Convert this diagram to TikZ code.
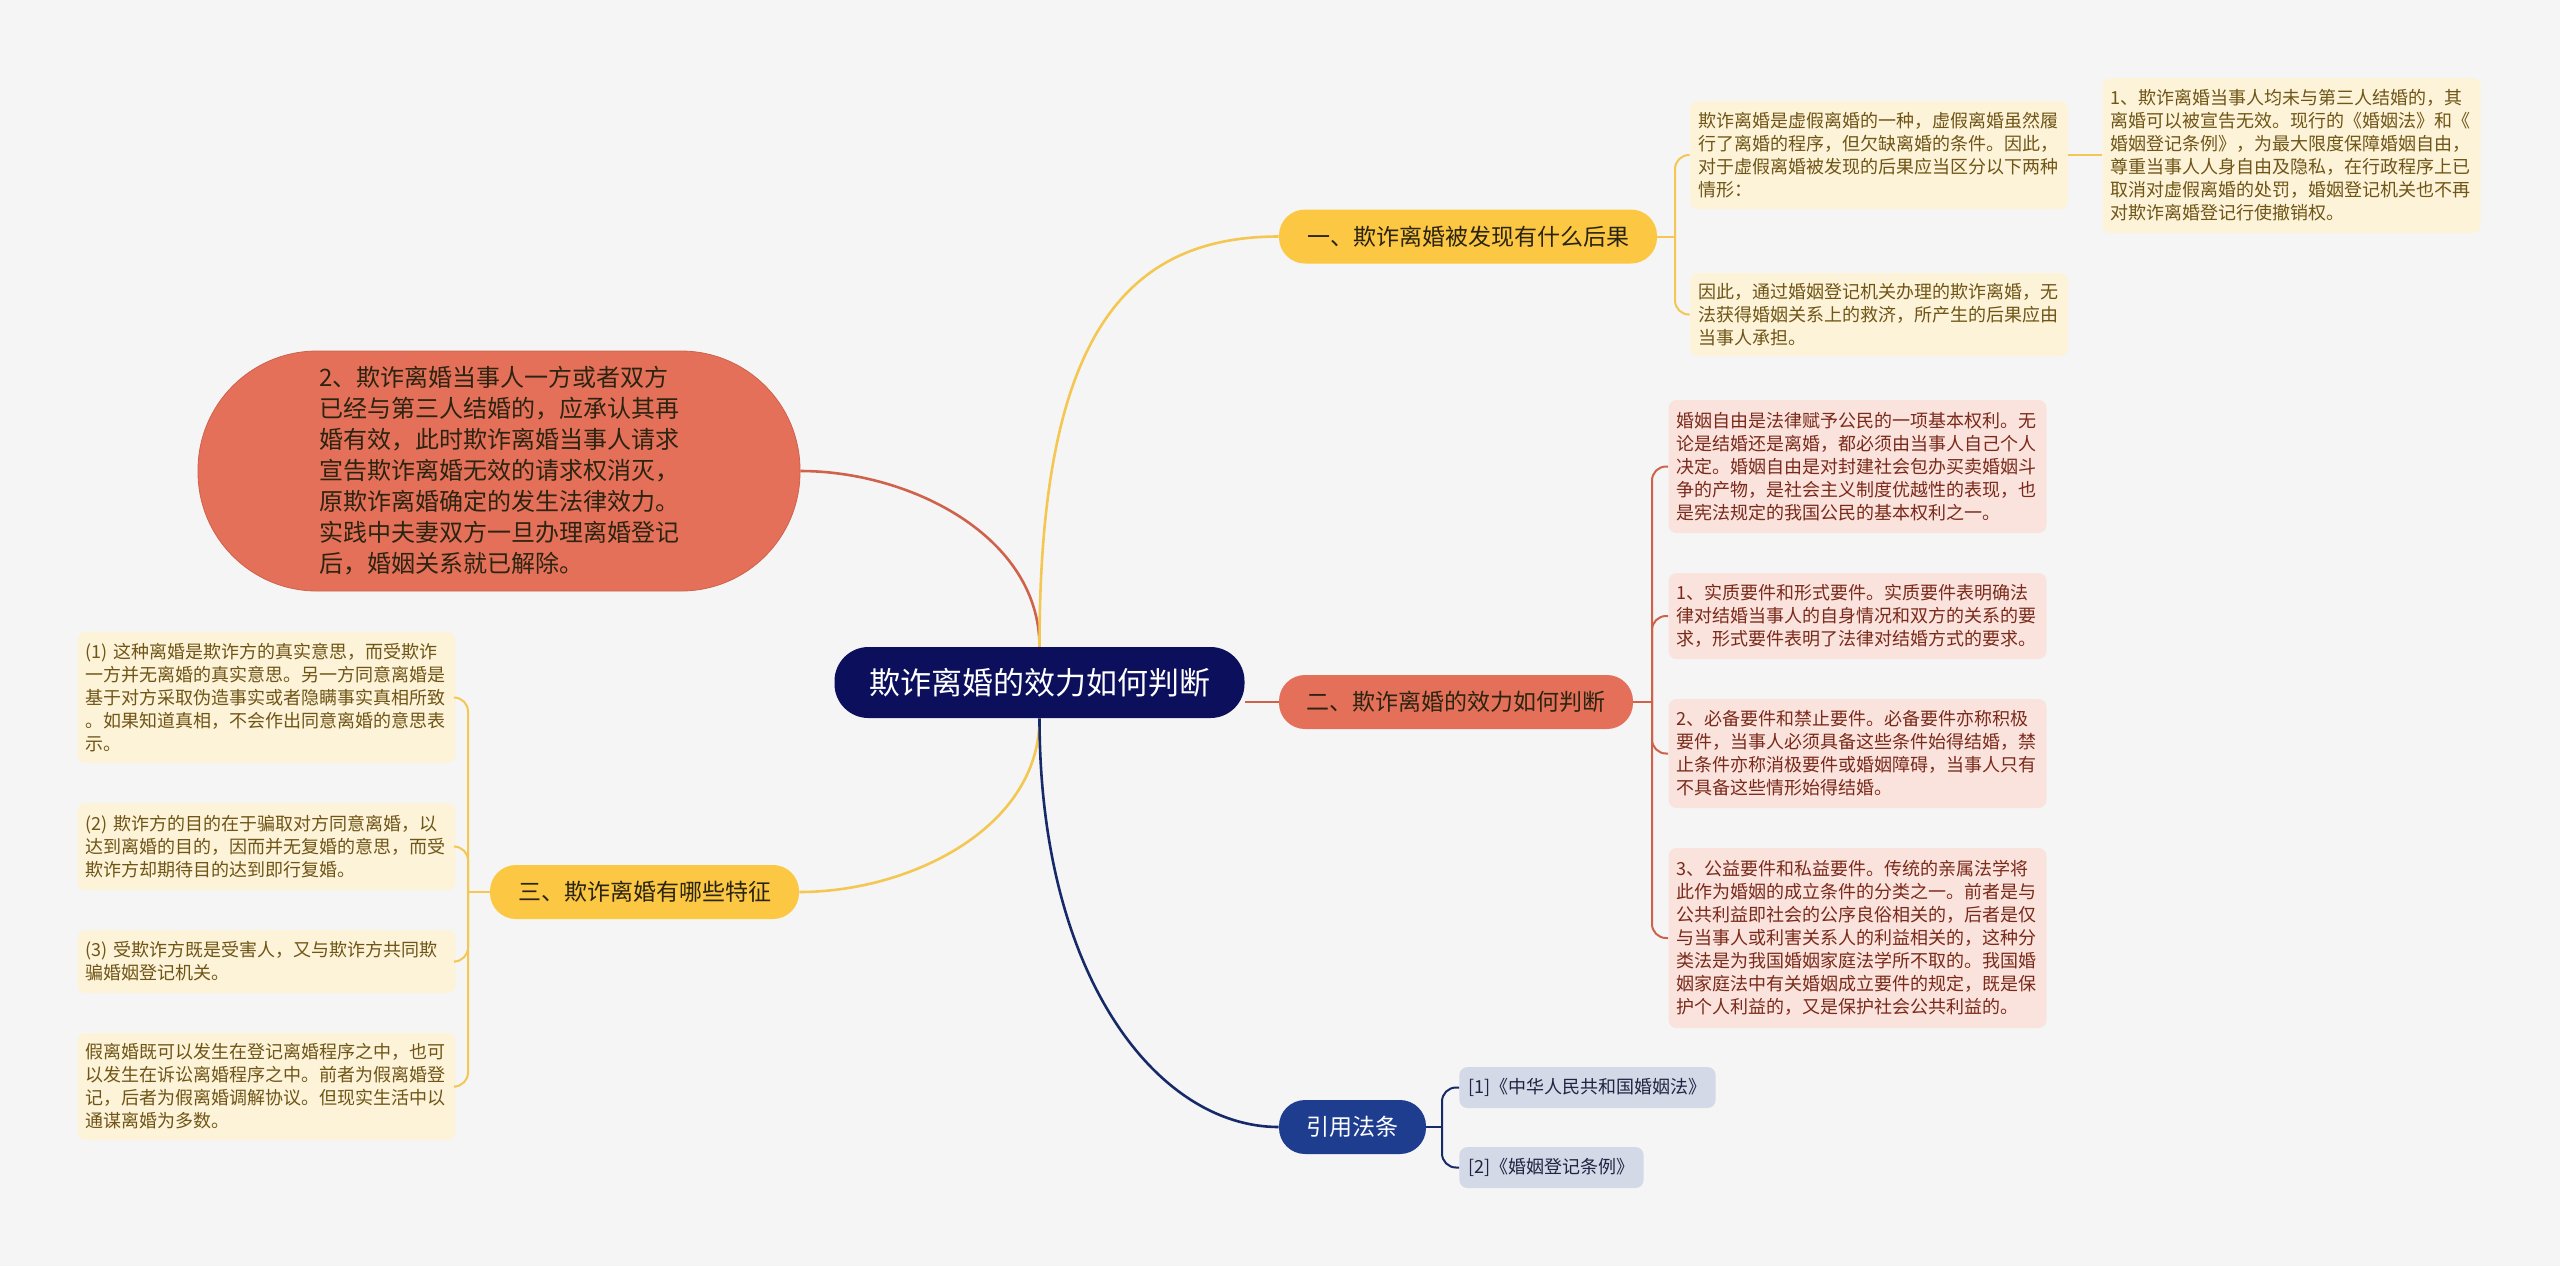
\documentclass[tikz,border=0pt]{standalone}
\usepackage{fontspec}
\setmainfont{Noto Sans CJK SC}
\definecolor{bgcol}{HTML}{F5F5F5}
\definecolor{rootcol}{HTML}{0B0F5C}
\definecolor{yelcol}{HTML}{FCC844}
\definecolor{yelline}{HTML}{F4C752}
\definecolor{yelbox}{HTML}{FDF3D9}
\definecolor{yeltext}{HTML}{6F5516}
\definecolor{redcol}{HTML}{E5705A}
\definecolor{redline}{HTML}{CE624B}
\definecolor{pinkbox}{HTML}{FAE3DD}
\definecolor{redtext}{HTML}{7A2A1A}
\definecolor{bluecol}{HTML}{1E3D8F}
\definecolor{blueline}{HTML}{162A6A}
\definecolor{citebox}{HTML}{D4D9E8}
\definecolor{citetext}{HTML}{1F2540}
\definecolor{darktext}{HTML}{2B2410}

\begin{document}
\begin{tikzpicture}[x=0.5pt,y=-0.5pt,
		root/.style={fill=rootcol, text=white, rounded corners=17pt, minimum width=205pt, minimum height=35.5pt, inner sep=0pt, font=\fontsize{15.5}{18}\selectfont},
		topic/.style={rounded corners=13pt, minimum height=27pt, inner sep=0pt, font=\fontsize{11.5}{14}\selectfont},
		leaf/.style={rounded corners=4pt, text width=181pt, inner xsep=4pt, inner ysep=3pt, align=left, font=\fontsize{9}{11.5}\selectfont},
		cite/.style={fill=citebox, text=citetext, rounded corners=4pt, minimum height=20.5pt, inner xsep=4.5pt, anchor=west, font=\fontsize{9}{11}\selectfont},
		main/.style={line width=1.3pt},
		kid/.style={line width=1pt, rounded corners=7pt}]
		\fill[bgcol] (0,0) rectangle (2560,1266);
		
		\node[root] (root) at (1039.5,682.5) {欺诈离婚的效力如何判断};
		
		\node[topic, fill=yelcol, text=darktext, minimum width=189pt] (b1) at (1468,236.5) {一、欺诈离婚被发现有什么后果};
		\node[topic, fill=redcol, text=darktext, minimum width=177pt] (b2) at (1456,702) {二、欺诈离婚的效力如何判断};
		\node[topic, fill=yelcol, text=darktext, minimum width=154.5pt] (b3) at (644.5,892) {三、欺诈离婚有哪些特征};
		\node[topic, fill=bluecol, text=white, minimum width=73.5pt] (b4) at (1352.5,1127) {引用法条};
		
		\node[fill=redcol, draw=redline, line width=0.4pt, rounded corners=59.5pt, minimum width=301pt, minimum height=120pt, inner sep=0pt, align=left, text=darktext, font=\fontsize{12}{15.5}\selectfont] (el) at (499,471) {2、欺诈离婚当事人一方或者双方\\已经与第三人结婚的，应承认其再\\婚有效，此时欺诈离婚当事人请求\\宣告欺诈离婚无效的请求权消灭，\\原欺诈离婚确定的发生法律效力。\\实践中夫妻双方一旦办理离婚登记\\后，婚姻关系就已解除。};
		
		% main branches
		\draw[main, redline] (root.north) .. controls +(0,-110) and +(110,0) .. (el.east);
		\draw[main, yelline] (root.north) .. controls +(0,-300) and +(-160,0) .. (b1.west);
		\draw[main, redline] (b2.west -| root.east) -- (b2.west);
		\draw[main, yelline] (root.south) .. controls +(0,110) and +(110,0) .. (b3.east);
		\draw[main, blueline] (root.south) .. controls +(0,260) and +(-120,0) .. (b4.west);
		
		% first branch
		\node[leaf, fill=yelbox, text=yeltext, minimum height=54pt] (ka) at (1879,155) {欺诈离婚是虚假离婚的一种，虚假离婚虽然履\\行了离婚的程序，但欠缺离婚的条件。因此，\\对于虚假离婚被发现的后果应当区分以下两种\\情形：};
		\node[leaf, fill=yelbox, text=yeltext, minimum height=41.5pt] (kb) at (1879,314.5) {因此，通过婚姻登记机关办理的欺诈离婚，无\\法获得婚姻关系上的救济，所产生的后果应由\\当事人承担。};
		\node[leaf, fill=yelbox, text=yeltext, minimum height=77.5pt] (kc) at (2291.5,155.5) {1、欺诈离婚当事人均未与第三人结婚的，其\\离婚可以被宣告无效。现行的《婚姻法》和《\\婚姻登记条例》，为最大限度保障婚姻自由，\\尊重当事人人身自由及隐私，在行政程序上已\\取消对虚假离婚的处罚，婚姻登记机关也不再\\对欺诈离婚登记行使撤销权。};
		\coordinate (j1) at (1675,236.5);
		\draw[kid, yelline] (b1.east) -- (j1);
		\draw[kid, yelline] (j1) |- (ka.west);
		\draw[kid, yelline] (j1) |- (kb.west);
		\draw[kid, yelline] (ka.east) -- (ka.east -| kc.west);
		
		% second branch
		\node[leaf, fill=pinkbox, text=redtext, minimum height=66.5pt] (p1) at (1857.5,466.5) {婚姻自由是法律赋予公民的一项基本权利。无\\论是结婚还是离婚，都必须由当事人自己个人\\决定。婚姻自由是对封建社会包办买卖婚姻斗\\争的产物，是社会主义制度优越性的表现，也\\是宪法规定的我国公民的基本权利之一。};
		\node[leaf, fill=pinkbox, text=redtext, minimum height=43pt] (p2) at (1857.5,616) {1、实质要件和形式要件。实质要件表明确法\\律对结婚当事人的自身情况和双方的关系的要\\求，形式要件表明了法律对结婚方式的要求。};
		\node[leaf, fill=pinkbox, text=redtext, minimum height=54.5pt] (p3) at (1857.5,753.5) {2、必备要件和禁止要件。必备要件亦称积极\\要件，当事人必须具备这些条件始得结婚，禁\\止条件亦称消极要件或婚姻障碍，当事人只有\\不具备这些情形始得结婚。};
		\node[leaf, fill=pinkbox, text=redtext, minimum height=90pt] (p4) at (1857.5,938) {3、公益要件和私益要件。传统的亲属法学将\\此作为婚姻的成立条件的分类之一。前者是与\\公共利益即社会的公序良俗相关的，后者是仅\\与当事人或利害关系人的利益相关的，这种分\\类法是为我国婚姻家庭法学所不取的。我国婚\\姻家庭法中有关婚姻成立要件的规定，既是保\\护个人利益的，又是保护社会公共利益的。};
		\coordinate (j2) at (1652,702);
		\draw[kid, redline] (b2.east) -- (j2);
		\foreach \k in {p1,p2,p3,p4}
			\draw[kid, redline] (j2) |- (\k.west);
		
		% third branch
		\node[leaf, fill=yelbox, text=yeltext, minimum height=65.5pt] (l1) at (266.5,697.5) {(1) 这种离婚是欺诈方的真实意思，而受欺诈\\一方并无离婚的真实意思。另一方同意离婚是\\基于对方采取伪造事实或者隐瞒事实真相所致\\。如果知道真相，不会作出同意离婚的意思表\\示。};
		\node[leaf, fill=yelbox, text=yeltext, minimum height=43.5pt] (l2) at (266.5,846.5) {(2) 欺诈方的目的在于骗取对方同意离婚，以\\达到离婚的目的，因而并无复婚的意思，而受\\欺诈方却期待目的达到即行复婚。};
		\node[leaf, fill=yelbox, text=yeltext, minimum height=31.5pt] (l3) at (266.5,961.5) {(3) 受欺诈方既是受害人，又与欺诈方共同欺\\骗婚姻登记机关。};
		\node[leaf, fill=yelbox, text=yeltext, minimum height=53.5pt] (l4) at (266.5,1086.5) {假离婚既可以发生在登记离婚程序之中，也可\\以发生在诉讼离婚程序之中。前者为假离婚登\\记，后者为假离婚调解协议。但现实生活中以\\通谋离婚为多数。};
		\coordinate (j3) at (468,892);
		\draw[kid, yelline] (b3.west) -- (j3);
		\foreach \k in {l1,l2,l3,l4}
			\draw[kid, yelline] (j3) |- (\k.east);
		
		% citations
		\node[cite] (c1) at (1459,1087.5) {[1]《中华人民共和国婚姻法》};
		\node[cite] (c2) at (1459,1167.5) {[2]《婚姻登记条例》};
		\coordinate (j4) at (1442,1127);
		\draw[kid, blueline] (b4.east) -- (j4);
		\draw[kid, blueline] (j4) |- (c1.west);
		\draw[kid, blueline] (j4) |- (c2.west);
	\end{tikzpicture}
\end{document}
